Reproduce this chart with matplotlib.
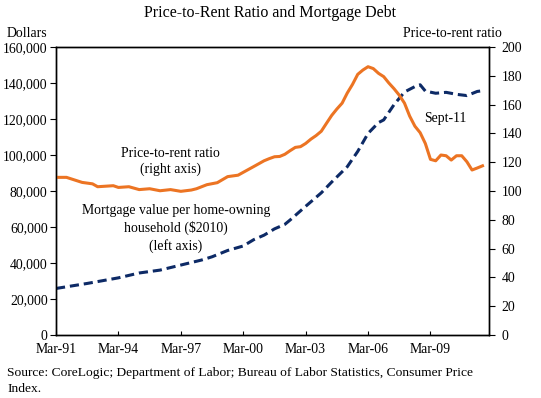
import pandas as pd
import matplotlib
matplotlib.use("Agg")
import matplotlib.pyplot as plt
import matplotlib.ticker as ticker
import matplotlib.dates as mdates

plt.rcParams["font.family"] = ["Liberation Serif", "DejaVu Serif"]
FS = 9.9

# Price-to-rent ratio (right axis)
ratio_dates = [
    "1991-03", "1991-09", "1992-06", "1992-12", "1993-03", "1993-12",
    "1994-03", "1994-09", "1995-03", "1995-09", "1996-03", "1996-09",
    "1997-03", "1997-09", "1997-12", "1998-06", "1998-12", "1999-06",
    "1999-12", "2000-03", "2000-06", "2000-09", "2000-12", "2001-03",
    "2001-06", "2001-09", "2001-12", "2002-03", "2002-06", "2002-09",
    "2002-12", "2003-03", "2003-06", "2003-09", "2003-12", "2004-03",
    "2004-06", "2004-09", "2004-12", "2005-03", "2005-06", "2005-09",
    "2005-12", "2006-03", "2006-06", "2006-09", "2006-12", "2007-03",
    "2007-06", "2007-09", "2007-12", "2008-03", "2008-06", "2008-09",
    "2008-12", "2009-03", "2009-06", "2009-09", "2009-12", "2010-03",
    "2010-06", "2010-09", "2010-12", "2011-03", "2011-06", "2011-09",
]
ratio_values = [
    109.5, 109.5, 106.0, 105.0, 103.0, 103.7,
    102.5, 103.0, 101.0, 101.6, 100.2, 101.0,
    99.8, 100.7, 101.6, 104.4, 105.8, 110.0,
    111.0, 113.0, 115.0, 117.0, 119.0, 121.0,
    122.5, 123.8, 124.0, 125.5, 128.0, 130.3,
    130.8, 133.0, 136.0, 138.5, 141.5, 147.0,
    152.5, 157.0, 161.0, 168.0, 174.0, 181.0,
    184.0, 186.3, 185.0, 181.7, 179.4, 175.0,
    171.0, 166.5, 161.0, 152.0, 145.0, 140.5,
    133.0, 122.0, 121.0, 125.0, 124.5, 121.5,
    124.5, 124.5, 120.3, 114.6, 116.0, 117.5,
]

# Mortgage value per home-owning household, $2010 (left axis)
mortgage_dates = [
    "1991-03", "1992-09", "1994-03", "1995-03", "1996-03", "1997-03",
    "1998-03", "1998-09", "1999-06", "2000-03", "2000-09", "2001-03",
    "2001-09", "2002-03", "2002-06", "2003-03", "2003-12", "2004-06",
    "2005-03", "2005-09", "2006-03", "2006-09", "2006-12", "2007-06",
    "2007-12", "2008-06", "2008-09", "2008-12", "2009-06", "2009-12",
    "2010-06", "2010-12", "2011-06", "2011-09",
]
mortgage_values = [
    25900, 28700, 31800, 34500, 36100, 38900,
    41700, 43500, 47000, 49500, 53000, 55500,
    59000, 61500, 63900, 71500, 79000, 85000,
    93500, 102000, 112000, 118000, 119500, 128000,
    135000, 138000, 139000, 135500, 134300, 134800,
    133700, 133000, 135300, 135700,
]

tick_years = [1991, 1994, 1997, 2000, 2003, 2006, 2009]

ratio_x = pd.to_datetime(ratio_dates)
mortgage_x = pd.to_datetime(mortgage_dates)

fig = plt.figure(figsize=(5.41, 3.98), dpi=100)
ax = fig.add_axes([0.1035, 0.158, 0.8005, 0.724])
ax2 = ax.twinx()

ax.plot(mortgage_x, mortgage_values, color="#0d2a66", lw=2.2,
        dashes=(3.0, 1.6))
ax2.plot(ratio_x, ratio_values, color="#ec7423", lw=2.2)

ax.set_xlim(pd.Timestamp("1991-03-01"), pd.Timestamp("2011-12-25"))
ax.set_ylim(0, 160000)
ax2.set_ylim(0, 200)
ax.set_yticks(range(0, 160001, 20000))
ax2.set_yticks(range(0, 201, 20))
ax.get_yaxis().set_major_formatter(ticker.FuncFormatter(lambda v, p: f"{v:,.0f}"))

ax.set_xticks([pd.Timestamp(f"{y}-03-01") for y in tick_years])
ax.xaxis.set_major_formatter(mdates.DateFormatter("Mar-%y"))

ax.tick_params(axis="x", direction="in", length=3, labelsize=FS, pad=6)
ax.tick_params(axis="y", direction="out", length=4, labelsize=FS, pad=2)
ax2.tick_params(axis="y", direction="out", length=4, labelsize=FS, pad=5)
for a in (ax, ax2):
    for s in a.spines.values():
        s.set_linewidth(1.0)

fig.text(0.5, 0.988, "Price-to-Rent Ratio and Mortgage Debt", ha="center",
         va="top", fontsize=11.5)
fig.text(0.013, 0.9, "Dollars", ha="left", va="bottom", fontsize=FS)
fig.text(0.927, 0.9, "Price-to-rent ratio", ha="right", va="bottom", fontsize=FS)

ax2.text(pd.Timestamp("1996-09-01"), 120.5, "Price-to-rent ratio\n(right axis)",
         ha="center", va="center", fontsize=FS, linespacing=1.3)
ax.text(pd.Timestamp("1996-12-01"), 59400,
        "Mortgage value per home-owning\nhousehold ($2010)\n(left axis)",
        ha="center", va="center", fontsize=FS, linespacing=1.35)
ax2.text(pd.Timestamp("2008-11-01"), 150.5, "Sept-11", ha="left", va="center",
         fontsize=FS)

fig.text(0.013, 0.008,
         "Source: CoreLogic; Department of Labor; Bureau of Labor Statistics, Consumer Price\nIndex.",
         ha="left", va="bottom", fontsize=9.7, linespacing=1.38)

fig.savefig("out.png", dpi=100)
